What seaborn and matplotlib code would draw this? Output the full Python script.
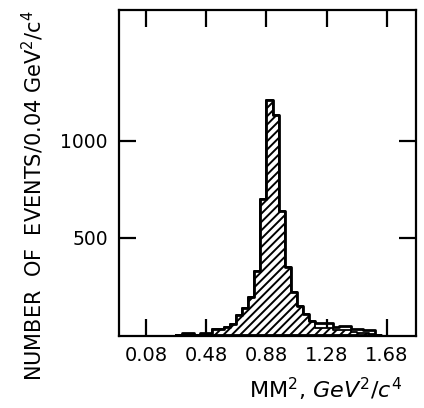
import numpy as np
import pandas as pd
import matplotlib
matplotlib.use("Agg")
import matplotlib.pyplot as plt
import seaborn as sns

# ---- data ----
bin_left = [0.28, 0.32, 0.36, 0.40, 0.44, 0.48, 0.52, 0.56, 0.60, 0.64,
            0.68, 0.72, 0.76, 0.80, 0.84, 0.88, 0.92, 0.96, 1.00, 1.04,
            1.08, 1.12, 1.16, 1.20, 1.24, 1.28, 1.32, 1.36, 1.40, 1.44,
            1.48, 1.52, 1.56, 1.60]
bin_width = 0.04
total_counts = [0, 10, 10, 0, 12, 12, 32, 32, 40, 55,
                105, 140, 195, 330, 700, 1210, 1135, 640, 352, 224,
                150, 110, 72, 60, 60, 60, 40, 48, 45, 31,
                31, 26, 24, 0]
hatched_counts = [0, 0, 0, 0, 0, 0, 32, 32, 40, 55,
                  105, 140, 195, 330, 700, 1210, 1135, 640, 352, 224,
                  150, 110, 72, 38, 38, 38, 25, 28, 25, 15,
                  12, 8, 5, 0]
x_ticks = [0.08, 0.48, 0.88, 1.28, 1.68]
x_tick_labels = ["0.08", "0.48", "0.88", "1.28", "1.68"]
y_ticks = [500, 1000]
y_tick_labels = ["500", "1000"]

df = pd.DataFrame({
    "center": np.array(bin_left) + bin_width / 2,
    "total": total_counts,
    "hatched": hatched_counts,
})
edges = list(bin_left) + [bin_left[-1] + bin_width]

sns.set_style("white")
plt.rcParams["font.family"] = ["DejaVu Sans"]
plt.rcParams["hatch.linewidth"] = 1.4
plt.rcParams["hatch.color"] = "black"
plt.rcParams["text.color"] = "black"
plt.rcParams["axes.labelcolor"] = "black"
plt.rcParams["xtick.color"] = "black"
plt.rcParams["ytick.color"] = "black"

fig = plt.figure(figsize=(4.24, 4.08), dpi=100)
ax = fig.add_axes([119 / 424, 72 / 408, 297 / 424, 326 / 408])

sns.histplot(data=df, x="center", weights="hatched", bins=edges,
             element="step", fill=True, color="white", alpha=1,
             edgecolor="black", linewidth=1.3, hatch="////", ax=ax)
sns.histplot(data=df, x="center", weights="total", bins=edges,
             element="step", fill=False, color="black", linewidth=2.0, ax=ax)

ax.set_xlim(-0.0993, 1.8728)
ax.set_ylim(-5, 1674)

ax.set_xticks(x_ticks)
ax.set_xticklabels(x_tick_labels)
ax.set_yticks(y_ticks)
ax.set_yticklabels(y_tick_labels)

ax.tick_params(axis="both", which="major", direction="in", length=12,
               width=1.6, color="black", labelcolor="black",
               top=True, right=True, bottom=True, left=True)
ax.tick_params(axis="x", labelsize=14, pad=7)
ax.tick_params(axis="y", labelsize=13.5, pad=8)

for s in ax.spines.values():
    s.set_linewidth(1.6)
    s.set_color("black")
    s.set_visible(True)

ax.set_xlabel(r"MM$^2$, $GeV^2/c^4$", fontsize=16, color="black")
ax.xaxis.set_label_coords(0.697, -0.163)
ax.xaxis.label.set_va("center")

ax.set_ylabel(r"NUMBER  OF  EVENTS/0.04 GeV$^2$/c$^4$", fontsize=15,
              color="black")
ax.yaxis.set_label_coords((33 - 119) / 297, (336 - 196) / 326)
ax.yaxis.label.set_va("center")

fig.savefig("out.png", dpi=100)
